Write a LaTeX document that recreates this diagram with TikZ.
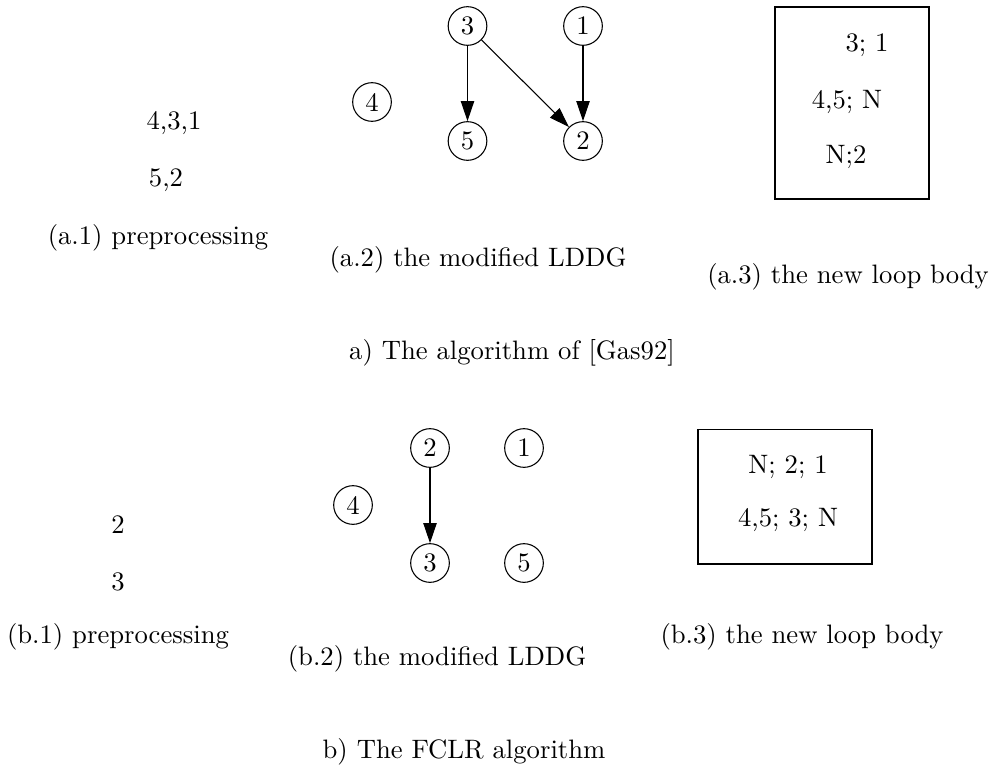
\documentclass[tikz,border=0pt]{standalone}
\usetikzlibrary{arrows.meta}
\begin{document}
\begin{tikzpicture}[x=0.375pt,y=-0.375pt,
  vtx/.style={draw,circle,minimum size=14.5pt,inner sep=0pt,line width=0.4pt},
  lbl/.style={inner sep=0pt,anchor=center},
  arr/.style={-{Triangle[length=7.5pt,width=5pt]},line width=0.4pt},
  boxx/.style={draw,line width=0.4pt}]
\useasboundingbox (0,0) rectangle (990,770);
% (a.1)
\node[lbl] (t431) at (174,123) {4,3,1};
\node[lbl] (t52) at (166,180) {5,2};
\node[lbl] (ca1) at (158,238) {(a.1) preprocessing};
% (a.2)
\node[vtx] (a3) at (467.5,26) {3};
\node[vtx] (a1) at (583,26) {1};
\node[vtx] (a4) at (372,102) {4};
\node[vtx] (a5) at (467.5,141) {5};
\node[vtx] (a2) at (583,141) {2};
\draw[arr] (a3) -- (a5);
\draw[arr] (a3) -- (a2);
\draw[arr] (a1) -- (a2);
\node[lbl] (ca2) at (478,260) {(a.2) the modified LDDG};
% (a.3)
\node[boxx,minimum width=57.75pt,minimum height=72pt] (boxa) at (852,103) {};
\node[lbl] (a3t1) at (867,45) {3; 1};
\node[lbl] (a3t2) at (847,102) {4,5; N};
\node[lbl] (a3t3) at (846,157) {N;2};
\node[lbl] (ca3) at (848,277) {(a.3) the new loop body};
\node[lbl] (capa) at (512,353) {a) The algorithm of [Gas92]};
% (b.1)
\node[lbl] (tb2) at (118,525) {2};
\node[lbl] (tb3) at (118,582) {3};
\node[lbl] (cb1) at (118,637) {(b.1) preprocessing};
% (b.2)
\node[vtx] (b2) at (430,448) {2};
\node[vtx] (b1) at (524,448) {1};
\node[vtx] (b4) at (353,505) {4};
\node[vtx] (b3) at (430,563) {3};
\node[vtx] (b5) at (524,563) {5};
\draw[arr] (b2) -- (b3);
\node[lbl] (cb2) at (437,659) {(b.2) the modified LDDG};
% (b.3)
\node[boxx,minimum width=65.25pt,minimum height=50.6pt] (boxb) at (785,496.5) {};
\node[lbl] (b3t1) at (788,467) {N; 2; 1};
\node[lbl] (b3t2) at (788,520) {4,5; 3; N};
\node[lbl] (cb3) at (802,637) {(b.3) the new loop body};
\node[lbl] (capb) at (464,752) {b) The FCLR algorithm};
\end{tikzpicture}
\end{document}
